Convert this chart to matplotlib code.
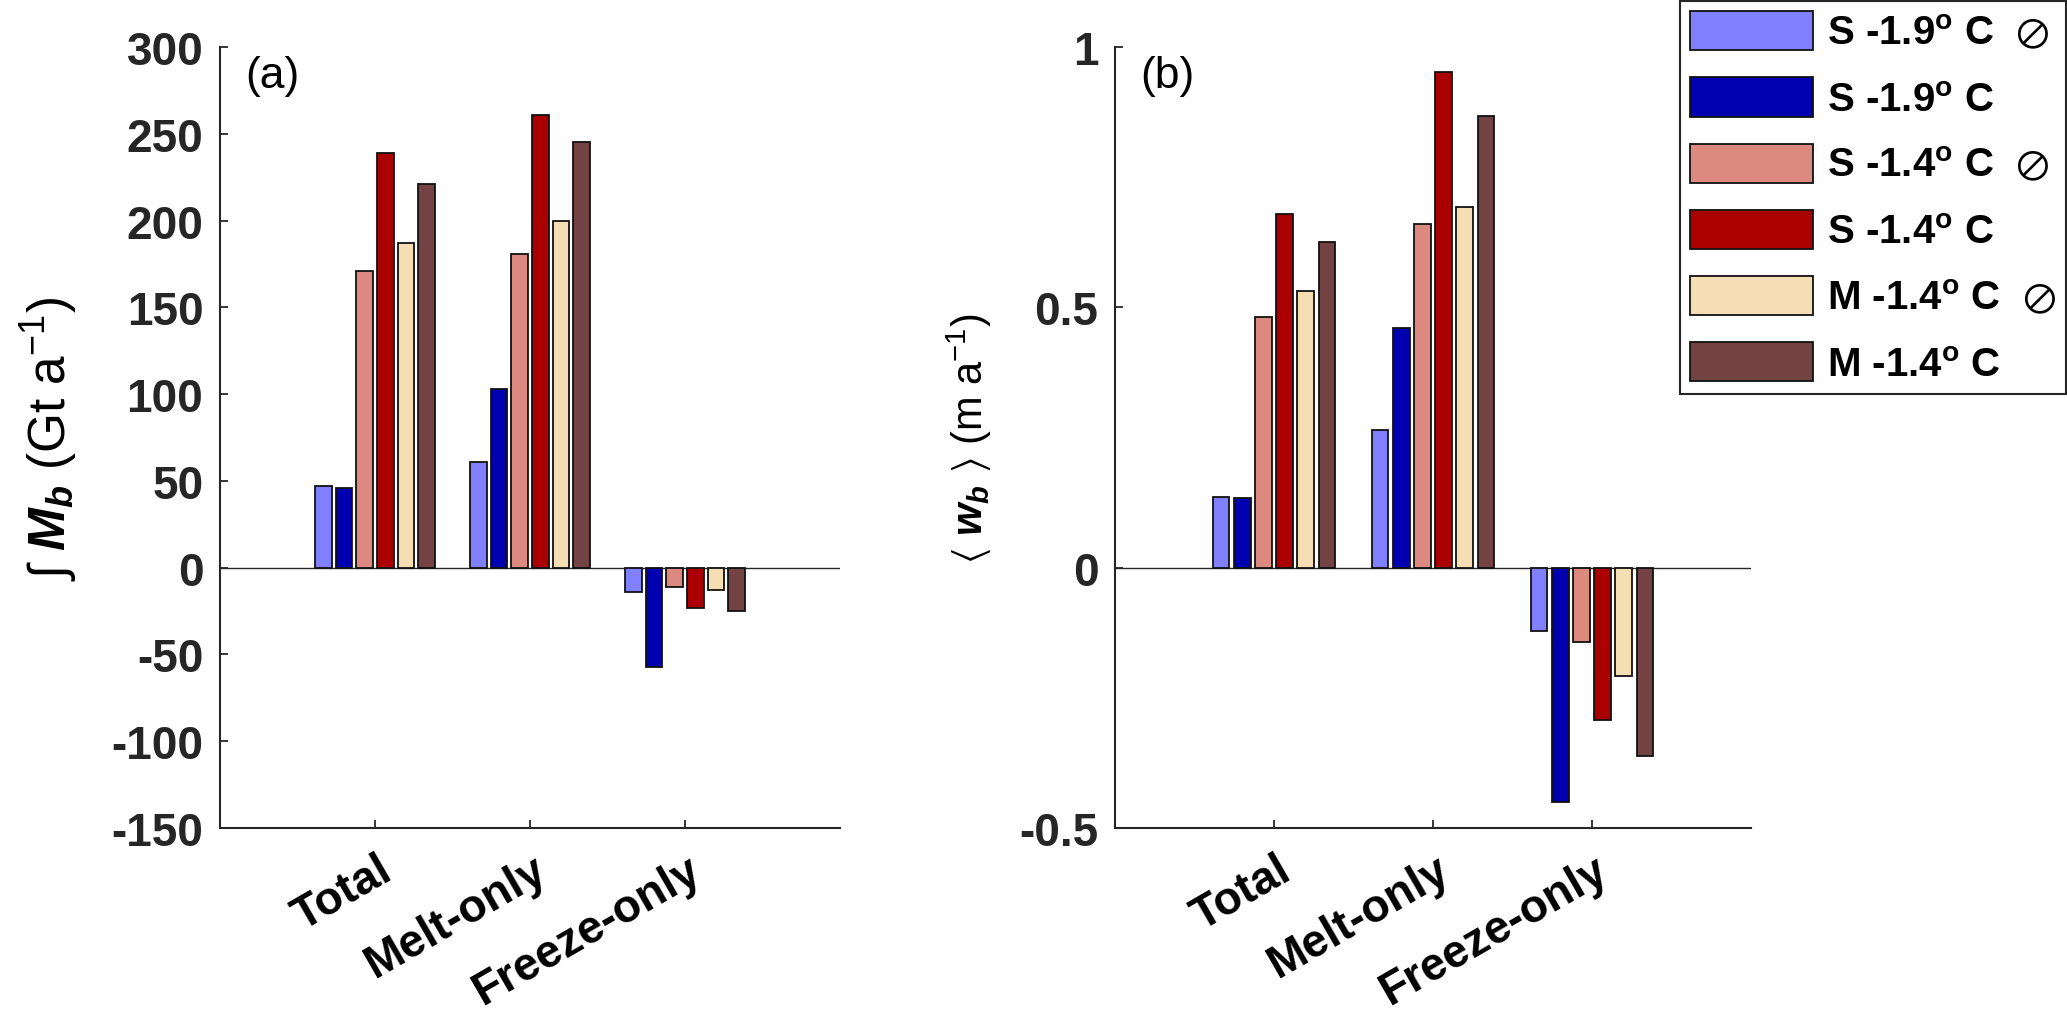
import matplotlib
matplotlib.use("Agg")
import matplotlib.pyplot as plt
import numpy as np

plt.rcParams['font.family'] = ['Liberation Sans', 'DejaVu Sans']
plt.rcParams['mathtext.fontset'] = 'custom'
plt.rcParams['mathtext.rm'] = 'Liberation Sans'
plt.rcParams['mathtext.it'] = 'Liberation Sans:italic:bold'
plt.rcParams['mathtext.bf'] = 'Liberation Sans:bold'
plt.rcParams['mathtext.fallback'] = 'stixsans'

categories = ['Total', 'Melt-only', 'Freeze-only']
series_labels = [r'S -1.9$^{\mathbf{o}}$ C  $\oslash$',
                 r'S -1.9$^{\mathbf{o}}$ C',
                 r'S -1.4$^{\mathbf{o}}$ C  $\oslash$',
                 r'S -1.4$^{\mathbf{o}}$ C',
                 r'M -1.4$^{\mathbf{o}}$ C  $\oslash$',
                 r'M -1.4$^{\mathbf{o}}$ C']
colors = ['#8080FF', '#0000B0', '#DC8A80', '#AA0000', '#F5DEB3', '#734242']

# Panel (a): integrated basal mass flux (Gt/a)
mass_s19_off = [47, 61, -14]
mass_s19 = [46, 103, -57]
mass_s14_off = [171, 181, -11]
mass_s14 = [239, 261, -23]
mass_m14_off = [187, 200, -13]
mass_m14 = [221, 245, -25]

# Panel (b): mean basal rate (m/a)
rate_s19_off = [0.135, 0.265, -0.122]
rate_s19 = [0.133, 0.46, -0.45]
rate_s14_off = [0.481, 0.661, -0.142]
rate_s14 = [0.679, 0.952, -0.293]
rate_m14_off = [0.532, 0.692, -0.209]
rate_m14 = [0.626, 0.868, -0.361]

mass_series = [mass_s19_off, mass_s19, mass_s14_off, mass_s14, mass_m14_off, mass_m14]
rate_series = [rate_s19_off, rate_s19, rate_s14_off, rate_s14, rate_m14_off, rate_m14]

W, H = 2067, 1012
fig = plt.figure(figsize=(W / 100, H / 100), dpi=100)
ax_a = fig.add_axes([220 / W, 1 - 829 / H, 620 / W, 781 / H])
ax_b = fig.add_axes([1115 / W, 1 - 829 / H, 636 / W, 781 / H])

axcol = '#262626'
x = np.arange(1, len(categories) + 1)
n = len(mass_series)
slot = 0.8 / n
bw = slot * 0.8


def draw(ax, series, ylim, yticks, yticklabels, panel):
    handles = []
    for i, vals in enumerate(series):
        h = ax.bar(x + (i - (n - 1) / 2) * slot, vals, width=bw, color=colors[i],
                   edgecolor='#111111', linewidth=1.3, zorder=2)
        handles.append(h)
    ax.axhline(0, color=axcol, lw=1.0, zorder=1)
    ax.set_xlim(0, 4)
    ax.set_ylim(*ylim)
    ax.set_yticks(yticks)
    ax.set_yticklabels(yticklabels, fontsize=33, fontweight='bold', color=axcol)
    ax.set_xticks(x)
    ax.tick_params(axis='x', labelbottom=False)
    for xi, cat in zip(x, categories):
        ax.annotate(cat, xy=(xi, 0), xycoords=('data', 'axes fraction'),
                    xytext=(1.5, -14), textcoords='offset points', rotation=30,
                    ha='right', va='top', rotation_mode='anchor',
                    fontsize=33, fontweight='bold', color='black')
    for s in ['top', 'right']:
        ax.spines[s].set_visible(False)
    for s in ['left', 'bottom']:
        ax.spines[s].set_color(axcol)
        ax.spines[s].set_linewidth(1.5)
    ax.tick_params(direction='in', length=6, width=1.3, color=axcol, pad=12)
    ax.text(0.04, 0.99, panel, transform=ax.transAxes, fontsize=32,
            ha='left', va='top')
    return handles


handles = draw(ax_a, mass_series, (-150, 300), np.arange(-150, 301, 50),
               [str(v) for v in range(-150, 301, 50)], '(a)')
draw(ax_b, rate_series, (-0.5, 1.0), [-0.5, 0, 0.5, 1],
     ['-0.5', '0', '0.5', '1'], '(b)')

ax_a.set_ylabel(r'$\int$ $M_b$ (Gt a$^{-1}$)', fontsize=37)
ax_a.yaxis.set_label_coords(-0.226, 0.5)
ax_b.set_ylabel(r'$\langle$ $w_b$ $\rangle$ (m a$^{-1}$)', fontsize=30)
ax_b.yaxis.set_label_coords(-0.19, 0.5)

leg = fig.legend(handles, series_labels, loc='upper right',
                 bbox_to_anchor=(0.9995, 0.998), borderaxespad=0,
                 prop={'weight': 'bold', 'size': 29}, handlelength=3.05,
                 handleheight=1.12, handletextpad=0.35, labelspacing=0.62,
                 borderpad=0.25, frameon=True, fancybox=False, framealpha=1)
leg.get_frame().set_edgecolor(axcol)
leg.get_frame().set_linewidth(1.5)

fig.savefig('out.png', dpi=100)
